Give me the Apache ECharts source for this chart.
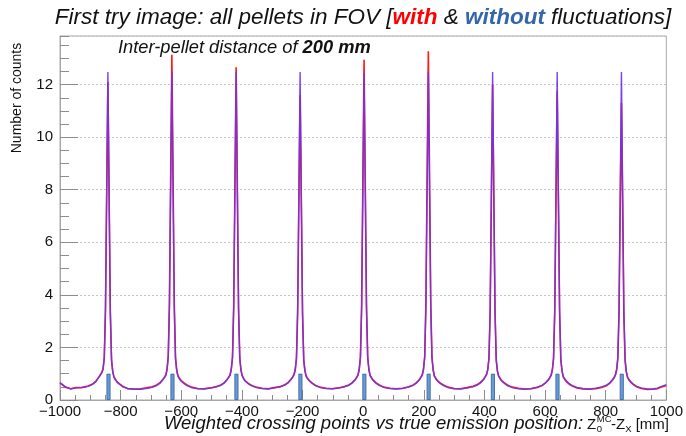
<!DOCTYPE html>
<html>
<head>
<meta charset="utf-8">
<script src="https://cdn.jsdelivr.net/npm/echarts@6/dist/echarts.min.js"></script>
<style>
  html, body { margin: 0; padding: 0; background: #ffffff; }
  #chart { width: 686px; height: 436px; }
</style>
</head>
<body>
<div id="chart"></div>
<script>
// Positions along Z (mm) at which the histogram is sampled
const zPositions = [
  -1000, -982, -965, -948,
  -927, -907, -892, -882, -872, -867, -862, -858, -854, -850, -842, -834, -830, -826, -822, -817, -812, -802, -792, -777, -757,
  -737,
  -716, -696, -681, -671, -661, -656, -651, -647, -643, -639, -631, -623, -619, -615, -611, -606, -601, -591, -581, -566, -546,
  -525,
  -504, -484, -469, -459, -449, -444, -439, -435, -431, -427, -419, -411, -407, -403, -399, -394, -389, -379, -369, -354, -334,
  -313,
  -293, -273, -258, -248, -238, -233, -228, -224, -220, -216, -208, -200, -196, -192, -188, -183, -178, -168, -158, -143, -123,
  -102,
  -82, -62, -47, -37, -27, -22, -17, -13, -9, -5, 3, 11, 15, 19, 23, 28, 33, 43, 53, 68, 88,
  109,
  130, 150, 165, 175, 185, 190, 195, 199, 203, 207, 215, 223, 227, 231, 235, 240, 245, 255, 265, 280, 300,
  321,
  342, 362, 377, 387, 397, 402, 407, 411, 415, 419, 427, 435, 439, 443, 447, 452, 457, 467, 477, 492, 512,
  534,
  555, 575, 590, 600, 610, 615, 620, 624, 628, 632, 640, 648, 652, 656, 660, 665, 670, 680, 690, 705, 725,
  746,
  767, 787, 802, 812, 822, 827, 832, 836, 840, 844, 852, 860, 864, 868, 872, 877, 882, 892, 902, 917, 937,
  955, 970, 985, 1000
];

// Counts with fluctuations (red)
const countsWith = [
  0.64, 0.49, 0.43, 0.47,
  0.48, 0.53, 0.61, 0.71, 0.87, 0.96, 1.05, 1.17, 1.58, 3.35, 12.10, 3.3, 1.5, 1.08, 0.88, 0.78, 0.70, 0.60, 0.51, 0.44, 0.42,
  0.42,
  0.46, 0.50, 0.57, 0.65, 0.78, 0.86, 0.95, 1.17, 1.66, 3.7, 13.14, 3.65, 1.62, 1.15, 0.93, 0.83, 0.75, 0.65, 0.57, 0.49, 0.44,
  0.43,
  0.46, 0.51, 0.57, 0.65, 0.78, 0.86, 0.96, 1.18, 1.63, 3.6, 12.66, 3.5, 1.6, 1.14, 0.93, 0.81, 0.73, 0.63, 0.56, 0.49, 0.45,
  0.43,
  0.47, 0.51, 0.58, 0.66, 0.79, 0.87, 0.97, 1.15, 1.56, 3.3, 11.60, 3.25, 1.5, 1.1, 0.91, 0.82, 0.74, 0.64, 0.56, 0.49, 0.45,
  0.43,
  0.46, 0.51, 0.57, 0.65, 0.77, 0.85, 0.96, 1.17, 1.64, 3.65, 12.95, 3.6, 1.64, 1.16, 0.94, 0.84, 0.76, 0.65, 0.57, 0.49, 0.45,
  0.43,
  0.45, 0.50, 0.57, 0.65, 0.77, 0.86, 0.96, 1.18, 1.66, 3.75, 13.27, 3.7, 1.63, 1.15, 0.92, 0.82, 0.74, 0.64, 0.57, 0.49, 0.44,
  0.43,
  0.47, 0.52, 0.59, 0.67, 0.79, 0.88, 0.98, 1.15, 1.57, 3.35, 12.00, 3.3, 1.5, 1.09, 0.92, 0.82, 0.74, 0.64, 0.56, 0.49, 0.45,
  0.42,
  0.43, 0.48, 0.55, 0.63, 0.75, 0.83, 0.94, 1.13, 1.56, 3.3, 11.75, 3.3, 1.52, 1.1, 0.88, 0.78, 0.70, 0.60, 0.53, 0.46, 0.42,
  0.41,
  0.43, 0.48, 0.54, 0.62, 0.75, 0.83, 0.94, 1.13, 1.55, 3.2, 11.30, 3.2, 1.5, 1.07, 0.86, 0.76, 0.68, 0.58, 0.50, 0.44, 0.40,
  0.41, 0.43, 0.50, 0.55
];

// Counts without fluctuations (blue)
const countsWithout = [
  0.66, 0.50, 0.42, 0.46,
  0.47, 0.52, 0.60, 0.70, 0.86, 0.95, 1.04, 1.18, 1.62, 3.5, 12.48, 3.4, 1.55, 1.08, 0.86, 0.76, 0.68, 0.58, 0.50, 0.43, 0.41,
  0.41,
  0.44, 0.48, 0.55, 0.63, 0.76, 0.84, 0.93, 1.14, 1.6, 3.5, 12.50, 3.45, 1.55, 1.12, 0.90, 0.80, 0.72, 0.62, 0.55, 0.47, 0.43,
  0.42,
  0.45, 0.50, 0.56, 0.64, 0.77, 0.85, 0.95, 1.16, 1.6, 3.5, 12.48, 3.4, 1.58, 1.12, 0.92, 0.80, 0.72, 0.62, 0.55, 0.48, 0.44,
  0.42,
  0.46, 0.50, 0.57, 0.65, 0.78, 0.86, 0.96, 1.16, 1.62, 3.55, 12.48, 3.4, 1.55, 1.12, 0.90, 0.80, 0.73, 0.63, 0.55, 0.48, 0.44,
  0.43,
  0.45, 0.50, 0.56, 0.64, 0.76, 0.84, 0.95, 1.15, 1.6, 3.45, 12.44, 3.45, 1.6, 1.14, 0.92, 0.82, 0.74, 0.63, 0.56, 0.48, 0.44,
  0.42,
  0.44, 0.49, 0.56, 0.64, 0.76, 0.85, 0.95, 1.15, 1.6, 3.5, 12.50, 3.45, 1.58, 1.12, 0.90, 0.80, 0.72, 0.62, 0.55, 0.47, 0.43,
  0.42,
  0.45, 0.50, 0.57, 0.65, 0.77, 0.86, 0.96, 1.16, 1.62, 3.5, 12.48, 3.4, 1.55, 1.1, 0.90, 0.80, 0.72, 0.62, 0.54, 0.47, 0.43,
  0.41,
  0.44, 0.49, 0.56, 0.64, 0.76, 0.84, 0.95, 1.15, 1.6, 3.5, 12.48, 3.45, 1.58, 1.12, 0.90, 0.80, 0.73, 0.62, 0.55, 0.48, 0.44,
  0.42,
  0.45, 0.50, 0.56, 0.64, 0.77, 0.85, 0.96, 1.16, 1.62, 3.5, 12.48, 3.4, 1.55, 1.1, 0.88, 0.78, 0.70, 0.60, 0.52, 0.46, 0.42,
  0.42, 0.45, 0.52, 0.58
];

// True pellet emission positions (mm), one entry each
const pelletPositions = [-840, -629, -418, -207, 4, 216, 428, 641, 853];
const pelletCounts = [1, 1, 1, 1, 1, 1, 1, 1, 1];

const FONT = "'Liberation Sans', Arial, Helvetica, sans-serif";

const withoutData = zPositions.map((z, i) => [z, countsWithout[i]]);
const withData = zPositions.map((z, i) => [z, countsWith[i]]);
const pelletData = pelletPositions.map((z, i) => [z, pelletCounts[i]]);

// Width measurement for the composed x-axis title
const measureCtx = document.createElement('canvas').getContext('2d');
function textWidth(text, font) {
  measureCtx.font = font;
  return measureCtx.measureText(text).width;
}

const chart = echarts.init(document.getElementById('chart'), null, { renderer: 'canvas' });

const grid = { left: 60, right: 17, top: 36, bottom: 36 };
const rightEdge = 686 - grid.right;

const fMain = 'italic 18.5px ' + FONT;
const fZ = '15px ' + FONT;
const fScript = '9.5px ' + FONT;
const wZ = textWidth('Z', fZ);
const wSup = Math.max(textWidth('MC', fScript), textWidth('0', fScript));
const wDashZ = textWidth('-Z', fZ);
const wSubX = textWidth('X', fScript);
const wUnit = textWidth(' [mm]', fZ);
const zStart = rightEdge - (wZ + wSup + wDashZ + wSubX + wUnit);
const titleY = 424;

const xTitle = [
  { type: 'text', x: zStart - 4, y: titleY,
    style: { text: 'Weighted crossing points vs true emission position:', font: fMain, fill: '#111',
             align: 'right', verticalAlign: 'middle' } },
  { type: 'text', x: zStart, y: titleY + 1,
    style: { text: 'Z', font: fZ, fill: '#111', align: 'left', verticalAlign: 'middle' } },
  { type: 'text', x: zStart + wZ + 0.5, y: titleY - 5,
    style: { text: 'MC', font: fScript, fill: '#111', align: 'left', verticalAlign: 'middle' } },
  { type: 'text', x: zStart + wZ + 0.5, y: titleY + 5,
    style: { text: '0', font: fScript, fill: '#111', align: 'left', verticalAlign: 'middle' } },
  { type: 'text', x: zStart + wZ + wSup, y: titleY + 1,
    style: { text: '-Z', font: fZ, fill: '#111', align: 'left', verticalAlign: 'middle' } },
  { type: 'text', x: zStart + wZ + wSup + wDashZ, y: titleY + 5,
    style: { text: 'X', font: fScript, fill: '#111', align: 'left', verticalAlign: 'middle' } },
  { type: 'text', x: zStart + wZ + wSup + wDashZ + wSubX, y: titleY + 1,
    style: { text: ' [mm]', font: fZ, fill: '#111', align: 'left', verticalAlign: 'middle' } }
];

const option = {
  animation: false,
  backgroundColor: '#ffffff',
  textStyle: { fontFamily: FONT },
  grid: Object.assign({ show: true, borderColor: '#a8a8a8', borderWidth: 1, backgroundColor: 'transparent' }, grid),
  xAxis: {
    type: 'value',
    min: -1000,
    max: 1000,
    interval: 200,
    axisLine: { show: true, onZero: false, lineStyle: { color: '#a8a8a8', width: 1 } },
    axisTick: { show: true, inside: true, length: 10, lineStyle: { color: '#8c8c8c' } },
    minorTick: { show: true, splitNumber: 4, length: 5, lineStyle: { color: '#8c8c8c' } },
    splitLine: { show: false },
    axisLabel: {
      margin: 4,
      fontSize: 15,
      color: '#111',
      fontFamily: FONT,
      formatter: v => String(v).replace('-', '\u2212')
    }
  },
  yAxis: [
    {
      type: 'value',
      min: 0,
      max: 13.85,
      interval: 2,
      axisLine: { show: true, onZero: false, lineStyle: { color: '#a8a8a8', width: 1 } },
      axisTick: { show: true, inside: true, length: 18, lineStyle: { color: '#8c8c8c' } },
      splitLine: { show: true, lineStyle: { color: '#c4c4c4', type: [2, 2], width: 1 } },
      axisLabel: {
        margin: 7,
        fontSize: 15,
        color: '#111',
        fontFamily: FONT,
        showMaxLabel: false,
        formatter: v => (v % 2 === 0 ? String(v) : '')
      }
    },
    {
      // minor ticks every 0.5 counts
      type: 'value',
      position: 'left',
      min: 0,
      max: 13.85,
      interval: 0.5,
      axisLine: { show: false, onZero: false },
      axisTick: { show: true, inside: true, length: 9, lineStyle: { color: '#8c8c8c' } },
      splitLine: { show: false },
      axisLabel: { show: false }
    }
  ],
  series: [
    {
      name: 'with',
      type: 'line',
      data: withData,
      showSymbol: false,
      symbol: 'none',
      lineStyle: { color: '#ff1a1a', width: 1.6 },
      z: 2
    },
    {
      name: 'without',
      type: 'line',
      data: withoutData,
      showSymbol: false,
      symbol: 'none',
      lineStyle: { color: '#6d33ec', width: 1.4, opacity: 0.92 },
      z: 3
    },
    {
      name: 'pellets',
      type: 'bar',
      data: pelletData,
      barWidth: 4,
      itemStyle: { color: '#6a9bd8', borderColor: '#2d5e9e', borderWidth: 0.8 },
      z: 4
    }
  ],
  graphic: [
    {
      type: 'text',
      x: 363, y: 18,
      style: {
        text: '{n|First try image: all pellets in FOV [}{r|with}{n| & }{b|without}{n| fluctuations]}',
        align: 'center', verticalAlign: 'middle',
        rich: {
          n: { font: 'italic 22.5px ' + FONT, fill: '#111' },
          r: { font: 'italic bold 22.5px ' + FONT, fill: '#ff0000' },
          b: { font: 'italic bold 22.5px ' + FONT, fill: '#3566ab' }
        }
      }
    },
    {
      type: 'text',
      x: 118, y: 48,
      style: {
        text: '{n|Inter-pellet distance of }{b|200 mm}',
        align: 'left', verticalAlign: 'middle',
        rich: {
          n: { font: 'italic 18.3px ' + FONT, fill: '#111' },
          b: { font: 'italic bold 18.3px ' + FONT, fill: '#111' }
        }
      }
    },
    {
      type: 'text',
      x: 17, y: 98,
      rotation: Math.PI / 2,
      style: {
        text: 'Number of counts',
        font: '14px ' + FONT, fill: '#111',
        align: 'center', verticalAlign: 'middle'
      }
    }
  ].concat(xTitle)
};

chart.setOption(option);
</script>
</body>
</html>
